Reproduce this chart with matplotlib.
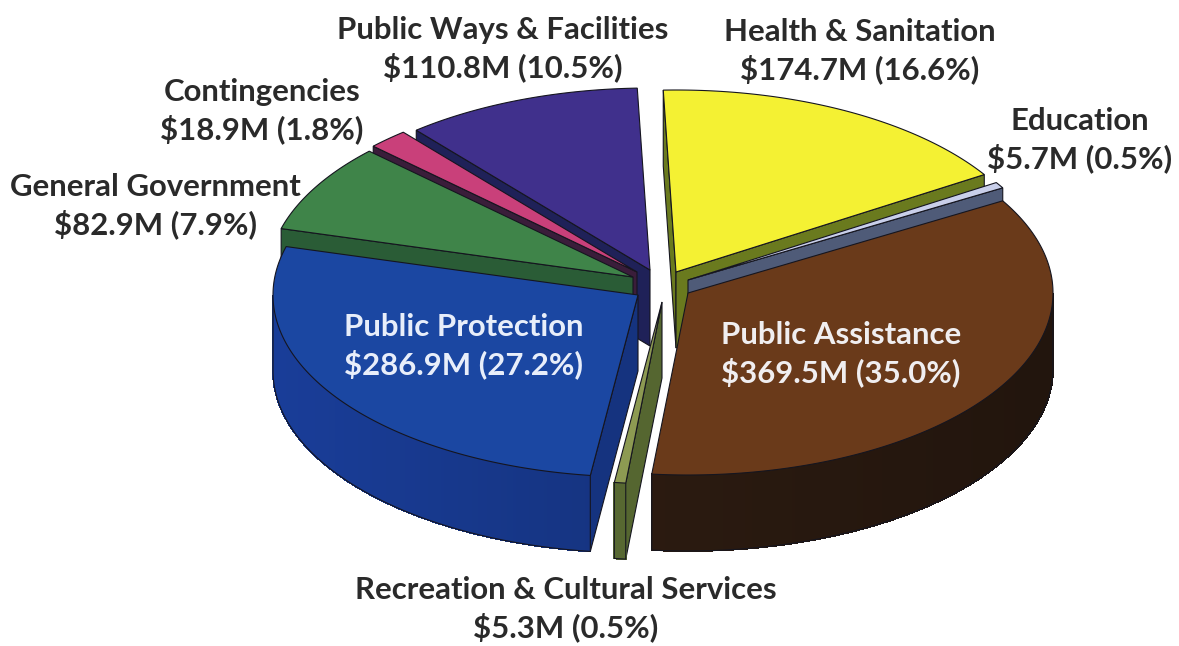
import numpy as np
import matplotlib
matplotlib.use("Agg")
import matplotlib.pyplot as plt
from matplotlib.patches import Polygon
from matplotlib.colors import to_rgb

# data, clockwise from the top
categories = ["Health & Sanitation", "Education", "Public Assistance",
              "Recreation & Cultural Services", "Public Protection",
              "General Government", "Contingencies", "Public Ways & Facilities"]
values = [174.7, 5.7, 369.5, 5.3, 286.9, 82.9, 18.9, 110.8]
percents = [16.6, 0.5, 35.0, 0.5, 27.2, 7.9, 1.8, 10.5]

# styling
tip_offset = [(16, -10), (28, -2), (28, 11), (2, 20), (-22, 13), (-27, -5), (-23, -10), (-10, -12)]
top_colors = ["#F4F133", "#C9CFEA", "#6A3A1A", "#8D9A52", "#1B47A2", "#3F8449", "#C9407A", "#40308C"]
side_colors = ["#6A7A1E", "#4F5B78", "#2A1A10", "#556630", "#15337F", "#2A5C36", "#3A1D3A", "#1F2158"]
draw_order = [7, 0, 6, 5, 1, 2, 4, 3]
label_pos = [(860, 51), (1080, 140), (841, 354), (566, 609), (464, 346), (155, 206), (262, 111), (503, 49)]
label_colors = ["#2A2A2A"] * 8
label_colors[2] = "#F0EEF0"
label_colors[4] = "#E8EEFA"

CX, CY, RX, RY, H, START = 660, 282, 365, 182, 76, 92.0
EDGE = "#15151F"

plt.rcParams["font.family"] = ["Lato", "DejaVu Sans"]
fig = plt.figure(figsize=(11.79, 6.46), dpi=100, facecolor="white")
ax = fig.add_axes([0, 0, 1, 1])
ax.set_xlim(0, 1179)
ax.set_ylim(646, 0)
ax.axis("off")

total = sum(values)
sweeps = np.array(values) / total * 360
starts = START - np.concatenate([[0], np.cumsum(sweeps)[:-1]])


def shade(color, f):
    return tuple(min(1, c * f) for c in to_rgb(color))


def draw_wedge(i, z):
    a0 = starts[i]
    a1 = a0 - sweeps[i]
    tx = CX + tip_offset[i][0]
    ty = CY + tip_offset[i][1]
    th = np.radians(np.linspace(a0, a1, max(6, int(sweeps[i] * 2))))
    ox = tx + RX * np.cos(th)
    oy = ty - RY * np.sin(th)
    # straight cut faces that turn towards the viewer
    if np.sin(np.radians(a0 + 90)) < 0:
        ax.add_patch(Polygon([(tx, ty), (ox[0], oy[0]), (ox[0], oy[0] + H), (tx, ty + H)],
                             closed=True, fc=side_colors[i], ec=EDGE, lw=0.8, zorder=z))
    if np.sin(np.radians(a1 - 90)) < 0:
        ax.add_patch(Polygon([(tx, ty), (ox[-1], oy[-1]), (ox[-1], oy[-1] + H), (tx, ty + H)],
                             closed=True, fc=side_colors[i], ec=EDGE, lw=0.8, zorder=z))
    # curved outer face, front half only
    vis = np.sin(th) <= 0.0
    idx = np.where(vis)[0]
    if len(idx) > 1:
        for k in idx[:-1]:
            f = 1.0 - 0.2 * np.cos(th[k])
            c = shade(side_colors[i], f)
            ax.add_patch(Polygon([(ox[k], oy[k]), (ox[k + 1], oy[k + 1]),
                                  (ox[k + 1], oy[k + 1] + H), (ox[k], oy[k] + H)],
                                 closed=True, fc=c, ec=c, lw=0.6, antialiased=False, zorder=z + 0.1))
        vx = np.r_[ox[idx[0]], ox[idx], ox[idx[-1]]]
        vy = np.r_[oy[idx[0]], oy[idx] + H, oy[idx[-1]]]
        ax.plot(vx, vy, color=EDGE, lw=0.8, zorder=z + 0.2)
    # top face
    ax.add_patch(Polygon(np.column_stack([np.r_[tx, ox], np.r_[ty, oy]]),
                         closed=True, fc=top_colors[i], ec=EDGE, lw=0.8, zorder=z + 0.3))


for z, i in enumerate(draw_order):
    draw_wedge(i, z + 1)

for i, name in enumerate(categories):
    ax.text(label_pos[i][0], label_pos[i][1],
            f"{name}\n${values[i]:.1f}M ({percents[i]:.1f}%)",
            ha="center", va="center", fontsize=22.4, fontweight="bold",
            color=label_colors[i], linespacing=1.33, zorder=20)

fig.savefig("out.png", dpi=100, facecolor="white")
